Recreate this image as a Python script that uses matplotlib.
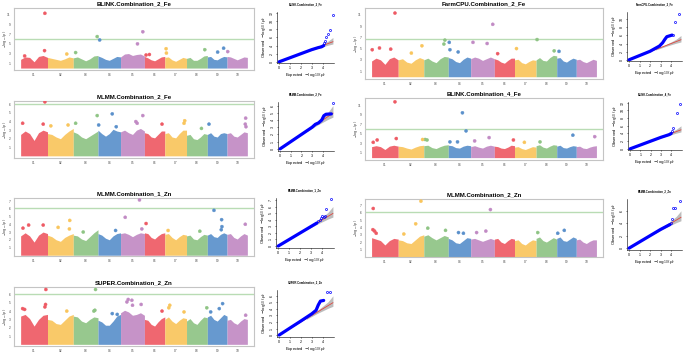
import numpy as np
import matplotlib.pyplot as plt

plt.rcParams['font.family'] = ['Liberation Sans', 'DejaVu Sans']

W, H = 685, 354

# sorghum chromosome lengths (Mb)
chr_len = [80.9, 77.7, 74.4, 68.0, 71.9, 61.3, 65.5, 62.7, 59.4, 61.2]
chr_lab = ['01', '02', '03', '04', '05', '06', '07', '08', '09', '10']
chr_col = ['#ee5a64', '#f9c55c', '#8ec484', '#5a90cb', '#c18ac4'] * 2

# upper edge of the dense SNP cloud, 7 readings along each chromosome
blink2fe_env = [[1.8, 2.3, 2.2, 1.3, 2.4, 2.6, 2.2], [2.2, 2.0, 1.8, 1.6, 1.9, 2.3, 2.1],
                [2.1, 2.3, 1.9, 1.5, 1.9, 2.5, 2.6], [2.5, 2.2, 1.8, 1.6, 2.0, 2.4, 2.3],
                [2.3, 2.9, 3.0, 2.6, 2.8, 2.9, 2.5], [2.4, 2.1, 1.7, 1.5, 1.9, 2.3, 2.4],
                [2.2, 2.3, 1.7, 1.4, 1.8, 2.2, 2.0], [2.0, 2.2, 1.6, 1.6, 2.0, 2.5, 2.6],
                [2.3, 2.4, 1.8, 1.7, 2.1, 2.4, 2.3], [2.4, 2.3, 2.0, 1.7, 2.0, 2.3, 2.2]]
farmcpu2fe_env = [[2.8, 3.3, 3.0, 2.2, 3.2, 3.5, 3.0], [3.0, 3.2, 2.6, 2.4, 3.0, 3.4, 3.1],
                  [3.0, 3.3, 2.8, 2.5, 3.2, 3.6, 3.5], [3.4, 3.2, 2.7, 2.5, 3.1, 3.5, 3.3],
                  [3.2, 3.5, 3.3, 2.9, 3.2, 3.5, 3.2], [3.2, 3.0, 2.6, 2.4, 2.9, 3.3, 3.3],
                  [3.0, 3.1, 2.5, 2.3, 2.7, 3.0, 2.9], [3.0, 3.4, 2.9, 2.8, 3.4, 3.8, 3.7],
                  [3.3, 3.4, 2.8, 2.6, 3.0, 3.3, 3.1], [3.0, 3.1, 2.7, 2.5, 2.8, 3.1, 2.9]]
mlmm2fe_env = [[2.5, 2.9, 2.6, 1.8, 2.7, 3.0, 2.8], [2.6, 2.5, 2.2, 2.0, 2.5, 2.9, 3.2],
               [2.8, 2.6, 2.2, 2.0, 2.3, 2.6, 2.9], [3.0, 2.6, 2.3, 2.6, 3.1, 2.9, 2.8],
               [2.8, 3.0, 2.7, 2.5, 3.0, 3.2, 2.9], [2.7, 2.6, 2.2, 2.1, 2.5, 2.9, 2.9],
               [2.6, 2.7, 2.2, 2.1, 2.6, 3.0, 3.0], [2.4, 2.5, 2.0, 1.9, 2.2, 2.6, 2.5],
               [2.5, 2.7, 2.3, 2.2, 2.6, 2.7, 2.6], [2.6, 2.7, 2.3, 2.2, 2.5, 2.8, 2.7]]
blink4fe_env = [[2.3, 2.5, 2.3, 1.7, 2.4, 2.6, 2.4], [2.4, 2.3, 2.0, 1.8, 2.2, 2.5, 2.6],
                [2.5, 2.6, 2.1, 1.9, 2.3, 2.6, 2.7], [2.6, 2.5, 2.1, 2.0, 2.4, 2.6, 2.5],
                [2.3, 2.5, 2.2, 2.0, 2.4, 2.6, 2.4], [2.4, 2.3, 2.0, 1.9, 2.2, 2.6, 2.5],
                [2.2, 2.3, 1.9, 1.7, 2.0, 2.3, 2.2], [2.5, 2.7, 2.2, 2.0, 2.4, 2.7, 2.6],
                [2.4, 2.6, 2.1, 2.0, 2.3, 2.5, 2.4], [2.3, 2.4, 2.0, 1.9, 2.2, 2.4, 2.5]]
mlmm1zn_env = [[2.5, 2.9, 2.5, 1.7, 2.6, 3.0, 2.8], [2.6, 2.4, 2.0, 1.8, 2.3, 2.6, 2.8],
               [2.6, 2.5, 2.1, 1.9, 2.4, 2.9, 3.3], [2.8, 2.6, 2.2, 2.0, 2.5, 2.8, 2.9],
               [2.8, 2.9, 2.7, 2.4, 2.7, 2.9, 2.8], [2.9, 2.8, 2.3, 2.1, 2.5, 2.8, 2.9],
               [2.7, 2.8, 2.3, 2.0, 2.4, 2.7, 2.6], [2.5, 2.6, 2.1, 2.0, 2.4, 2.7, 2.6],
               [2.6, 2.8, 2.4, 2.3, 2.7, 2.9, 2.7], [2.7, 2.8, 2.3, 2.1, 2.5, 2.8, 2.6]]
mlmm2zn_env = [[2.6, 2.4, 2.2, 1.6, 2.2, 2.5, 2.4], [2.3, 2.2, 1.9, 1.8, 2.3, 2.8, 3.0],
               [2.8, 3.0, 2.6, 2.3, 2.6, 2.9, 2.7], [2.5, 2.3, 1.9, 1.8, 2.2, 2.6, 2.5],
               [2.4, 2.5, 2.3, 2.1, 2.3, 2.5, 2.3], [2.4, 2.5, 2.0, 1.8, 2.2, 2.5, 2.4],
               [2.2, 2.3, 1.8, 1.6, 2.0, 2.3, 2.2], [2.5, 2.7, 2.2, 2.0, 2.3, 2.6, 2.4],
               [2.5, 2.7, 2.2, 2.1, 2.4, 2.7, 2.5], [2.3, 2.4, 2.0, 1.8, 2.1, 2.3, 2.3]]
super2zn_env = [[3.4, 3.6, 3.1, 2.2, 3.0, 3.5, 3.6], [3.0, 2.9, 2.5, 2.4, 2.9, 3.4, 3.6],
                [3.4, 3.3, 2.8, 2.6, 3.0, 3.3, 3.2], [2.9, 2.7, 2.3, 2.3, 2.8, 3.4, 3.6],
                [3.8, 4.1, 3.9, 3.5, 3.6, 3.8, 3.5], [3.0, 2.9, 2.4, 2.2, 2.7, 3.1, 3.3],
                [3.0, 3.3, 2.8, 2.5, 2.9, 3.2, 3.1], [2.8, 3.1, 2.6, 2.4, 2.9, 3.3, 3.2],
                [3.3, 3.5, 3.0, 2.8, 3.2, 3.6, 3.4], [2.9, 3.0, 2.6, 2.4, 2.8, 3.1, 3.0]]

# SNPs standing above the cloud: (chromosome, position Mb, -log10 p)
blink2fe_hits = [(1, 73, 11.3), (1, 72, 3.6), (3, 72, 6.5), (4, 5, 5.8), (5, 67, 7.5), (5, 51, 5.0),
                 (7, 4, 4.0), (7, 5, 3.1), (8, 55, 3.8), (9, 49, 4.1), (9, 31, 3.3), (10, 2, 3.4),
                 (6, 5, 2.7), (6, 15, 2.8), (3, 7, 3.2), (2, 58, 2.9), (1, 12, 2.5)]
farmcpu2fe_hits = [(1, 71, 11.3), (5, 67, 9.3), (8, 3, 6.6), (3, 64, 6.5), (3, 61, 5.8), (4, 3, 6.1),
                   (4, 5, 4.8), (5, 7, 6.1), (5, 50, 5.9), (2, 72, 5.5), (1, 2, 4.8), (1, 24, 5.1),
                   (1, 58, 4.9), (7, 6, 5.0), (9, 7, 4.5), (8, 55, 4.6), (6, 10, 4.1), (4, 30, 4.4),
                   (2, 40, 4.2)]
mlmm2fe_hits = [(1, 73, 6.3), (3, 72, 4.7), (4, 43, 4.9), (5, 67, 4.7), (5, 46, 4.0), (5, 50, 3.8),
                (4, 2, 3.6), (1, 6, 3.8), (1, 68, 3.7), (6, 53, 3.7), (2, 10, 3.5), (2, 62, 3.6),
                (3, 7, 3.8), (7, 58, 3.8), (7, 60, 4.1), (9, 5, 3.7), (10, 56, 4.4), (10, 55, 3.7),
                (10, 57, 3.4), (4, 55, 3.4), (8, 45, 3.2)]
blink4fe_hits = [(1, 71, 11.7), (1, 75, 4.0), (4, 43, 9.4), (4, 54, 5.6), (9, 49, 4.7), (10, 56, 4.4),
                 (5, 56, 4.2), (3, 4, 3.8), (3, 10, 3.7), (2, 74, 3.8), (1, 17, 3.7), (1, 5, 3.2),
                 (6, 58, 3.7), (8, 12, 3.3), (4, 5, 3.3), (4, 28, 3.3), (5, 12, 3.5), (7, 30, 3.2)]
mlmm1zn_hits = [(5, 57, 7.15), (9, 20, 5.8), (5, 14, 4.9), (9, 43, 4.6), (9, 44, 3.7), (9, 42, 3.3),
                (6, 5, 4.1), (2, 67, 4.5), (2, 66, 3.4), (10, 55, 4.0), (1, 24, 3.9), (1, 68, 3.9),
                (1, 7, 3.5), (2, 32, 3.6), (4, 53, 3.2), (5, 64, 3.4), (3, 30, 3.0), (7, 10, 3.2),
                (8, 40, 3.1)]
mlmm2zn_hits = [(1, 5, 6.6), (2, 69, 7.6), (5, 60, 6.45), (2, 53, 4.5), (3, 12, 3.9), (1, 4, 3.7),
                (1, 9, 3.5), (1, 14, 3.2), (4, 31, 3.3), (4, 46, 3.2), (3, 66, 3.6), (5, 46, 3.5),
                (5, 18, 3.3), (8, 5, 3.3), (9, 3, 3.2), (9, 23, 3.6), (2, 17, 3.1)]
super2zn_hits = [(1, 76, 6.6), (3, 67, 6.6), (5, 23, 5.4), (5, 34, 5.3), (5, 19, 5.1), (5, 62, 4.8),
                 (5, 36, 4.7), (1, 6, 4.3), (1, 12, 4.2), (1, 75, 4.8), (1, 73, 4.5), (2, 58, 4.0),
                 (3, 62, 4.0), (3, 65, 4.1), (4, 43, 3.7), (4, 58, 3.6), (6, 53, 4.0), (7, 15, 4.7),
                 (7, 12, 4.4), (7, 58, 3.9), (8, 61, 4.4), (9, 46, 4.9), (9, 36, 4.3), (9, 10, 3.9),
                 (10, 56, 3.5)]

# QQ plots: (expected, observed) along the bulk, tail SNPs, and confidence band edges
blink2fe_qq = [(0, 0), (1, 1.0), (2, 2.0), (3, 3.0), (3.6, 3.5), (3.9, 3.7), (4.1, 4.0)]
blink2fe_tail = [(4.1, 4.6), (4.2, 5.2), (4.35, 6.2), (4.5, 6.8), (4.65, 7.8), (4.95, 11.6)]
farmcpu2fe_qq = [(0, 0), (1, 1.05), (2, 2.1), (2.9, 3.4), (3.2, 4.2), (3.4, 5.0), (3.6, 5.7), (4.1, 6.1)]
farmcpu2fe_tail = [(4.2, 6.2), (4.4, 9.3), (4.8, 11.3)]
mlmm2fe_qq = [(0, 0), (1, 1), (2, 2), (3, 3), (3.3, 3.4), (3.6, 3.6), (3.9, 4.0), (4.1, 4.6),
              (4.3, 4.8), (4.8, 4.85)]
mlmm2fe_tail = [(4.95, 6.3)]
blink4fe_qq = [(0, 0), (1, 1), (2, 2), (3, 3), (3.8, 3.7), (4.0, 4.0)]
blink4fe_tail = [(4.1, 4.6), (4.2, 5.4), (4.6, 9.4), (4.9, 11.7)]
mlmm1zn_qq = [(0, 0), (1, 1), (2, 2), (3, 3), (3.5, 3.5)]
mlmm1zn_tail = [(3.6, 3.8), (3.75, 4.0), (3.9, 4.2), (4.0, 4.5), (4.1, 4.4), (4.25, 4.6),
                (4.35, 5.6), (4.8, 7.1)]
mlmm2zn_qq = [(0, 0), (1, 1), (2, 2), (3, 3), (3.9, 3.8)]
mlmm2zn_tail = [(4.0, 4.1), (4.05, 4.7), (4.2, 6.4), (4.4, 6.5), (4.9, 7.6)]
super2zn_qq = [(0, 0), (1, 1.08), (2, 2.15), (3, 3.25), (3.4, 3.8), (3.6, 4.6), (3.8, 5.2), (4.1, 5.3)]
super2zn_tail = [(4.4, 6.6), (4.7, 6.6)]
ci_hi = [(2.5, 2.6), (3.5, 3.75), (4.0, 4.4), (4.5, 5.1), (4.95, 6.0)]
ci_lo = [(2.5, 2.4), (3.5, 3.3), (4.0, 3.7), (4.5, 4.1), (4.95, 4.4)]

fig = plt.figure(figsize=(W / 100, H / 100), dpi=100)
fig.patch.set_facecolor('white')


def px(x0, y0, x1, y1):
    return [x0 / W, 1 - y1 / H, (x1 - x0) / W, (y1 - y0) / H]


def manhattan(box, title, env, hits, thr, ylim, yticks):
    ax = fig.add_axes(px(*box))
    off = np.concatenate([[0], np.cumsum(chr_len)[:-1]])
    for i in range(10):
        xs = off[i] + np.linspace(0, chr_len[i], len(env[i]))
        ax.fill_between(xs, 0, env[i], color=chr_col[i], lw=0, alpha=0.92)
    hx = [off[c - 1] + p for c, p, v in hits]
    hy = [v for c, p, v in hits]
    hc = [chr_col[c - 1] for c, p, v in hits]
    ax.scatter(hx, hy, s=5, c=hc, edgecolors=hc, linewidths=0.3, zorder=3)
    ax.axhline(thr, color='#b9dcb4', lw=1.0, zorder=1)
    ax.set_xlim(-20, sum(chr_len) + 20)
    ax.set_ylim(*ylim)
    ax.set_xticks(off + np.array(chr_len) / 2)
    ax.set_xticklabels(chr_lab)
    ax.set_yticks(yticks)
    ax.tick_params(length=0, labelsize=2.3, colors='#444444', pad=2.5)
    for s in ax.spines.values():
        s.set_color('#c4c4c4')
        s.set_linewidth(0.8)
    ax.set_title(title, fontsize=4.4, fontweight='bold', pad=2)
    x0, y0, x1, y1 = box
    fig.text((x0 - 9) / W, 1 - (y0 + y1) / 2 / H, r'$-\log_{10}(p)$', fontsize=2.4,
             rotation=90, ha='center', va='center', color='#333333')
    return ax


def qq(box, title, line, tail, ytop, ystep):
    ax = fig.add_axes(px(*box))
    cx = [a for a, b in ci_hi]
    ax.fill_between(cx, [b for a, b in ci_lo], [b for a, b in ci_hi], color='#bdbdbd', lw=0)
    ax.plot([0, 4.95], [0, 4.95], color='#e0473f', lw=0.6, zorder=2)
    ax.plot([a for a, b in line], [b for a, b in line], color='#0000ff', lw=2.3,
            solid_capstyle='round', zorder=3)
    ax.plot([a for a, b in tail], [b for a, b in tail], 'o', ms=1.5, mfc='none',
            mec='#0000ff', mew=0.5, zorder=3)
    ax.set_xlim(-0.2, 5.05)
    ax.set_ylim(-0.3, ytop)
    ax.set_xticks([0, 1, 2, 3, 4])
    ax.set_yticks(np.arange(0, ytop, ystep))
    for s in ['top', 'right']:
        ax.spines[s].set_visible(False)
    for s in ['left', 'bottom']:
        ax.spines[s].set_linewidth(0.4)
    ax.tick_params(length=1, width=0.4, labelsize=2.6, pad=1)
    for t in ax.get_yticklabels():
        t.set_rotation(90)
        t.set_va('center')
    ax.set_title(title, fontsize=2.0, fontweight='bold', pad=5)
    ax.set_xlabel(r'Expected  $-\log_{10}(p)$', fontsize=3.0, labelpad=1)
    ax.set_ylabel(r'Observed  $-\log_{10}(p)$', fontsize=3.0, labelpad=1.5)
    return ax


manhattan((14, 8, 254, 70), 'BLINK.Combination_2_Fe', blink2fe_env, blink2fe_hits,
          6.0, (-0.4, 12.4), [1, 3, 5, 7, 9, 11])
manhattan((365, 8, 603, 79), 'FarmCPU.Combination_2_Fe', farmcpu2fe_env, farmcpu2fe_hits,
          6.7, (-0.4, 12.2), [1, 3, 5, 7, 9, 11])
manhattan((14, 101, 254, 158), 'MLMM.Combination_2_Fe', mlmm2fe_env, mlmm2fe_hits,
          6.1, (-0.25, 6.4), [1, 2, 3, 4, 5, 6])
manhattan((365, 98, 603, 160), 'BLINK.Combination_4_Fe', blink4fe_env, blink4fe_hits,
          6.1, (-0.5, 12.5), [1, 3, 5, 7, 9, 11])
manhattan((14, 198, 254, 256), 'MLMM.Combination_1_Zn', mlmm1zn_env, mlmm1zn_hits,
          6.1, (-0.1, 7.4), [1, 2, 3, 4, 5, 6, 7])
manhattan((365, 199, 603, 257), 'MLMM.Combination_2_Zn', mlmm2zn_env, mlmm2zn_hits,
          6.05, (-0.05, 7.9), [1, 2, 3, 4, 5, 6, 7])
manhattan((14, 287, 254, 346), 'SUPER.Combination_2_Zn', super2zn_env, super2zn_hits,
          6.05, (-0.2, 6.9), [1, 2, 3, 4, 5, 6])

qq((277, 12, 334, 63), 'BLINK.Combination_2_Fe', blink2fe_qq, blink2fe_tail, 12.3, 2)
qq((627, 12, 682, 61), 'FarmCPU.Combination_2_Fe', farmcpu2fe_qq, farmcpu2fe_tail, 11.8, 2)
qq((278, 102, 334, 151), 'MLMM.Combination_2_Fe', mlmm2fe_qq, mlmm2fe_tail, 6.5, 1)
qq((628, 102, 682, 150), 'BLINK.Combination_4_Fe', blink4fe_qq, blink4fe_tail, 12.2, 2)
qq((276, 198, 334, 248), 'MLMM.Combination_1_Zn', mlmm1zn_qq, mlmm1zn_tail, 7.3, 1)
qq((627, 199, 682, 250), 'MLMM.Combination_2_Zn', mlmm2zn_qq, mlmm2zn_tail, 7.9, 2)
qq((277, 290, 334, 337), 'SUPER.Combination_2_Zn', super2zn_qq, super2zn_tail, 6.9, 1)

fig.savefig('out.png', dpi=100, facecolor='white')
